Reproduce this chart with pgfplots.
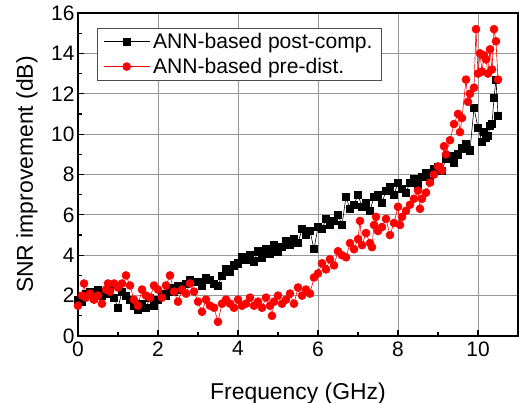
\documentclass[border=0pt]{standalone}
\usepackage{fontspec}
\setmainfont{Liberation Sans}
\usepackage{pgfplots}
\pgfplotsset{compat=1.18}
\definecolor{gridgray}{RGB}{150,150,150}
\begin{document}
\begin{tikzpicture}
\begin{axis}[
  scale only axis,
  width=440bp, height=323bp,
  xmin=0, xmax=11, ymin=0, ymax=16,
  xtick={0,2,...,10}, ytick={0,2,...,16},
  minor xtick={1,3,...,11}, minor ytick={1,3,...,15},
  tick align=inside,
  xtick pos=bottom, ytick pos=left,
  major tick length=6bp, minor tick length=4bp,
  tick style={black, line width=1.2pt},
  axis line style={line width=1.6pt},
  xmajorgrids=true, ymajorgrids=true,
  grid style={gridgray, line width=1bp},
  /pgf/number format/assume math mode=true,
  tick label style={font=\fontsize{21}{22}\selectfont},
  xticklabel style={yshift=-2bp},
  xlabel={Frequency (GHz)},
  ylabel={SNR improvement (dB)},
  label style={font=\fontsize{23}{24}\selectfont, inner sep=0pt},
  xlabel style={at={(axis description cs:0.5,0)}, anchor=base, yshift=-63bp},
  ylabel style={at={(axis description cs:0,0.5)}, anchor=base, yshift=45bp},
  legend style={at={(0.0432,0.9536)}, anchor=north west, draw=black!70, line width=0.8pt,
    font=\fontsize{21.2}{22}\selectfont, inner xsep=6bp, inner ysep=3bp,
    nodes={inner xsep=3bp, inner ysep=2bp}, row sep=4bp},
  legend cell align=left,
  legend image code/.code={\draw[#1, line width=0.6pt, mark repeat=2, mark phase=2] plot coordinates {(6bp,0bp) (29bp,0bp) (52bp,0bp)};},
]
\coordinate (ll) at (rel axis cs:0,0);
\coordinate (ur) at (rel axis cs:1,1);
\addplot[black, line width=0.6pt, mark=square*, mark size=3.6pt, mark options={solid}] coordinates {
(0.0,1.8)(0.1,1.7)(0.2,2.1)(0.3,2.2)(0.4,1.9)(0.5,2.3)(0.6,2.0)(0.7,2.1)(0.8,2.4)(0.9,1.9)
(1.0,1.4)(1.1,2.2)(1.2,2.0)(1.3,1.8)(1.4,1.5)(1.5,1.3)(1.6,1.6)(1.7,1.4)(1.8,1.9)(1.9,1.5)
(2.0,1.8)(2.1,2.1)(2.2,2.0)(2.3,2.4)(2.4,2.2)(2.5,2.5)(2.6,2.3)(2.7,2.6)(2.8,2.8)(2.9,2.7)
(3.0,2.7)(3.1,2.5)(3.2,2.9)(3.3,2.8)(3.4,2.6)(3.5,2.5)(3.6,3.0)(3.7,3.3)(3.8,3.2)(3.9,3.5)
(4.0,3.6)(4.1,3.9)(4.2,3.8)(4.3,4.0)(4.4,3.7)(4.5,4.2)(4.6,3.9)(4.7,4.3)(4.8,4.1)(4.9,4.5)
(5.0,4.2)(5.1,4.4)(5.2,4.7)(5.3,4.5)(5.4,4.8)(5.5,4.6)(5.6,5.3)(5.7,5.0)(5.8,5.2)(5.9,4.3)
(6.0,5.4)(6.1,5.3)(6.2,5.8)(6.3,5.5)(6.4,5.7)(6.5,6.0)(6.6,5.5)(6.7,6.9)(6.8,6.3)(6.9,6.5)
(7.0,7.0)(7.1,6.4)(7.2,6.6)(7.3,6.2)(7.4,6.9)(7.5,7.0)(7.6,6.6)(7.7,7.2)(7.8,7.4)(7.9,7.0)
(8.0,7.6)(8.1,7.3)(8.2,7.1)(8.3,7.6)(8.4,7.8)(8.5,7.5)(8.6,7.9)(8.7,8.1)(8.8,7.7)(8.9,8.3)
(9.0,8.4)(9.1,8.2)(9.2,8.8)(9.3,8.9)(9.4,8.6)(9.5,9.0)(9.6,9.3)(9.7,9.5)(9.8,9.2)(9.9,11.3)
(10.0,10.3)(10.1,9.6)(10.15,10.1)(10.2,9.8)(10.25,9.9)(10.3,10.4)(10.35,10.5)(10.4,11.8)(10.45,12.7)(10.5,10.9)
};
\addlegendentry{ANN-based post-comp.}
\addplot[red, line width=0.6pt, mark=*, mark size=4pt, mark options={solid}] coordinates {
(0.0,1.5)(0.1,2.0)(0.15,2.6)(0.2,1.9)(0.3,2.1)(0.4,1.8)(0.5,2.0)(0.6,1.6)(0.7,2.3)(0.75,2.6)
(0.8,2.2)(0.9,2.6)(1.0,2.4)(1.1,2.6)(1.2,3.0)(1.3,2.5)(1.4,1.8)(1.5,1.5)(1.6,2.3)(1.7,2.0)
(1.8,1.9)(1.9,2.5)(2.0,2.3)(2.1,1.9)(2.2,2.5)(2.3,3.0)(2.4,2.2)(2.5,1.7)(2.6,2.3)(2.7,2.1)
(2.8,2.6)(2.9,2.2)(3.0,1.7)(3.1,1.2)(3.2,1.8)(3.3,1.5)(3.4,1.4)(3.5,0.7)(3.6,1.6)(3.7,1.8)
(3.8,1.6)(3.9,1.4)(4.0,1.8)(4.1,1.5)(4.2,1.6)(4.3,1.9)(4.4,1.5)(4.5,1.7)(4.6,1.4)(4.7,1.9)
(4.8,1.5)(4.85,1.0)(4.9,1.7)(5.0,2.0)(5.1,1.6)(5.2,1.8)(5.3,2.1)(5.4,1.6)(5.5,2.4)(5.6,2.0)
(5.7,2.3)(5.8,2.1)(5.9,2.9)(6.0,3.1)(6.1,3.6)(6.2,3.3)(6.3,3.8)(6.4,3.5)(6.5,4.2)(6.6,4.0)
(6.7,3.9)(6.8,4.6)(6.9,4.3)(7.0,4.8)(7.05,5.7)(7.1,4.5)(7.2,5.1)(7.3,4.6)(7.35,4.4)(7.4,5.5)
(7.45,5.9)(7.5,5.2)(7.6,5.4)(7.7,5.8)(7.8,5.0)(7.9,5.6)(8.0,6.4)(8.05,5.5)(8.1,5.9)(8.2,6.2)
(8.3,6.5)(8.4,6.8)(8.5,7.2)(8.55,6.3)(8.6,6.8)(8.7,7.1)(8.8,7.6)(8.9,8.0)(9.0,8.4)(9.1,8.2)
(9.15,9.4)(9.2,9.0)(9.3,9.7)(9.4,10.5)(9.5,11.0)(9.55,10.1)(9.6,10.8)(9.7,12.7)(9.75,11.6)(9.8,12.0)
(9.9,12.3)(9.95,15.2)(10.0,13.0)(10.05,14.0)(10.1,13.1)(10.15,13.9)(10.2,13.7)(10.25,13.0)(10.3,14.2)(10.35,13.2)
(10.4,15.2)(10.45,14.6)(10.5,12.7)
};
\addlegendentry{ANN-based pre-dist.}
\end{axis}
\pgfresetboundingbox
\path[use as bounding box] ([shift={(-78bp,-67bp)}]ll) rectangle ([shift={(1bp,13bp)}]ur);
\end{tikzpicture}
\end{document}
